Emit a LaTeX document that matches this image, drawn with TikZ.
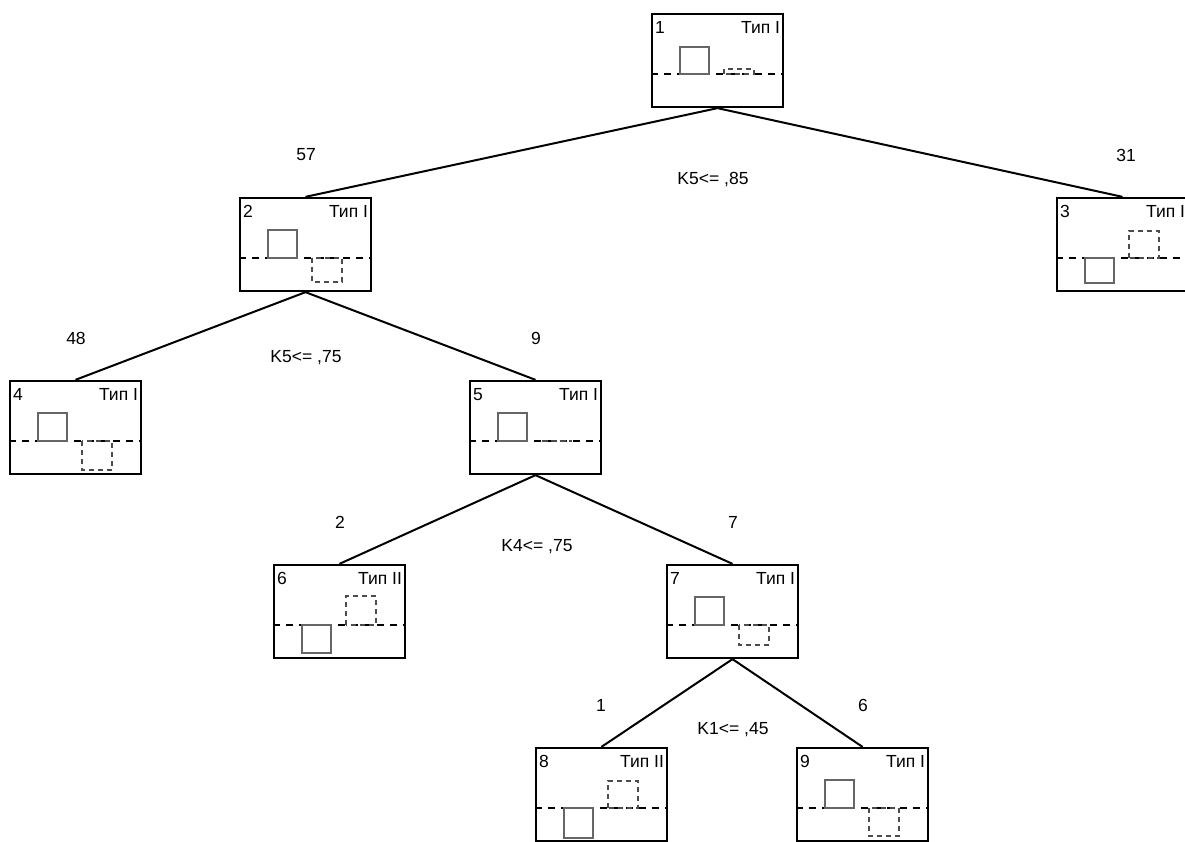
\documentclass[tikz,border=0pt]{standalone}
\usepackage{fontspec}
\setmainfont{Liberation Sans}
\usetikzlibrary{positioning,calc}
\newcommand{\nodebars}[3]{% #1 node, #2 square height (+ above), #3 dashed height (+ above)
  \begin{scope}[shift={(#1.north west)}]
    \draw[midline] (0,61) -- (131,61);
    \draw[sqbar] (29,61) rectangle (58,{61-(#2)});
    \draw[dbar] (73,61) rectangle (103,{61-(#3)});
  \end{scope}}
\tikzset{
  box/.style={draw=black, line width=2.3pt, minimum width=131pt, minimum height=93pt, inner sep=0pt},
  edge/.style={line width=2pt, black},
  midline/.style={line width=1.8pt, black, dash pattern=on 7pt off 6pt},
  sqbar/.style={line width=2pt, draw=black!60},
  dbar/.style={line width=1.6pt, draw=black!70, dash pattern=on 5pt off 4pt},
  num/.style={anchor=base west, inner sep=0pt},
  kind/.style={anchor=base east, inner sep=0pt},
  lbl/.style={inner sep=0pt}
}
\begin{document}
\begin{tikzpicture}[x=1pt, y=-1pt, font=\fontsize{17.5}{20}\selectfont]
  \useasboundingbox (0,0) rectangle (1185,842);
  \clip (0,0) rectangle (1185,842);
  % boxes
  \node[box] (n1) at (717.5,60.5) {};
  \node[box] (n2) at (305.5,244.5) {};
  \node[box] (n3) at (1122.5,244.5) {};
  \node[box] (n4) at (75.5,427.5) {};
  \node[box] (n5) at (535.5,427.5) {};
  \node[box] (n6) at (339.5,611.5) {};
  \node[box] (n7) at (732.5,611.5) {};
  \node[box] (n8) at (601.5,794.5) {};
  \node[box] (n9) at (862.5,794.5) {};
  % headers
  \foreach \n/\t in {1/{Тип I},2/{Тип I},3/{Тип I},4/{Тип I},5/{Тип I},6/{Тип II},7/{Тип I},8/{Тип II},9/{Тип I}}{
    \node[num] (id\n) at ($(n\n.north west)+(4,21)$) {\n};
    \node[kind] (ty\n) at ($(n\n.north east)+(-4,21)$) {\t};
  }
  % bars
  \nodebars{n1}{27}{5}
  \nodebars{n2}{28}{-24}
  \nodebars{n3}{-25}{27}
  \nodebars{n4}{28}{-29}
  \nodebars{n5}{28}{0}
  \nodebars{n6}{-28}{29}
  \nodebars{n7}{28}{-20}
  \nodebars{n8}{-30}{27}
  \nodebars{n9}{28}{-28}
  % edges
  \draw[edge] (n1.south) -- (n2.north);
  \draw[edge] (n1.south) -- (n3.north);
  \draw[edge] (n2.south) -- (n4.north);
  \draw[edge] (n2.south) -- (n5.north);
  \draw[edge] (n5.south) -- (n6.north);
  \draw[edge] (n5.south) -- (n7.north);
  \draw[edge] (n7.south) -- (n8.north);
  \draw[edge] (n7.south) -- (n9.north);
  % counts and splits
  \node[lbl] (c2) at (306,155) {57};
  \node[lbl] (c3) at (1126,155) {31};
  \node[lbl] (s1) at (713,180) {K5<= ,85};
  \node[lbl] (c4) at (76,338) {48};
  \node[lbl] (c5) at (536,338) {9};
  \node[lbl] (s2) at (306,358) {K5<= ,75};
  \node[lbl] (c6) at (340,522) {2};
  \node[lbl] (c7) at (733,522) {7};
  \node[lbl] (s5) at (537,547) {K4<= ,75};
  \node[lbl] (c8) at (601,705) {1};
  \node[lbl] (c9) at (863,705) {6};
  \node[lbl] (s7) at (733,730) {K1<= ,45};
\end{tikzpicture}
\end{document}
